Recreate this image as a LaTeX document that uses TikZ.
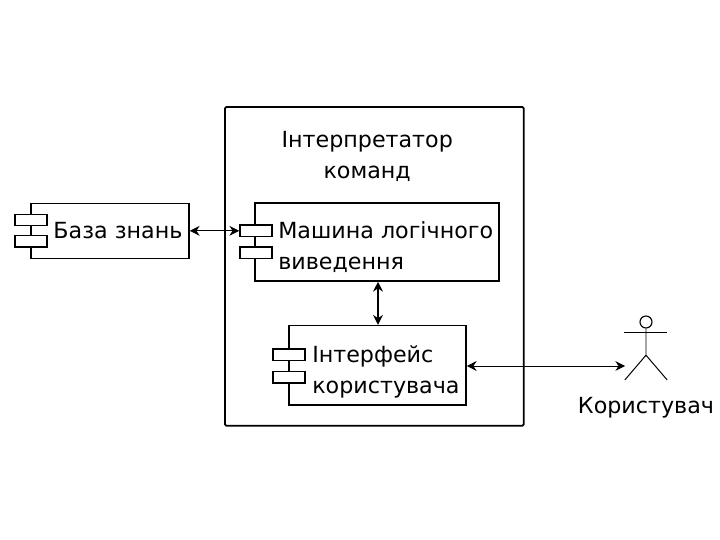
\documentclass[tikz,border=0pt]{standalone}
\usepackage{fontspec}
\setmainfont{DejaVu Sans}
\usetikzlibrary{arrows.meta}
\tikzset{
  compbox/.style={draw=black, fill=white, line width=1.1pt, minimum width=#1, inner sep=0pt},
  portbox/.style={draw=black, fill=white, line width=1.1pt, minimum width=0.8cm, minimum height=0.28cm, inner sep=0pt},
  complabel/.style={anchor=west, align=left, inner sep=0pt, font=\fontsize{15.8}{22}\selectfont},
  link/.style={{Stealth[length=7pt,width=7pt]}-{Stealth[length=7pt,width=7pt]}, line width=0.7pt}
}
\begin{document}
\begin{tikzpicture}
  \useasboundingbox (0,0) rectangle (18,13.5);
  % interpreter
  \node [draw=black, rounded corners=1pt, line width=1.3pt, minimum width=7.47cm, minimum height=7.97cm, inner sep=0pt] (interp) at (9.36,6.84) {};
  \node [align=center, inner sep=0pt, font=\fontsize{15.8}{22}\selectfont] (interpLabel) at (9.18,9.6) {Інтерпретатор\\команд};
  % knowledge base
  \node [compbox=3.95cm, minimum height=1.375cm] (base) at (2.75,7.73) {};
  \node [portbox] (basePortA) at (0.775,8) {};
  \node [portbox] (basePortB) at (0.775,7.47) {};
  \node [complabel] (baseLabel) at (1.33,7.73) {База знань};
  % inference engine
  \node [compbox=6.1cm, minimum height=1.95cm] (engine) at (9.425,7.45) {};
  \node [portbox] (enginePortA) at (6.4,7.73) {};
  \node [portbox] (enginePortB) at (6.4,7.18) {};
  \node [complabel] (engineLabel) at (6.95,7.33) {Машина логічного\\виведення};
  % user interface
  \node [compbox=4.42cm, minimum height=1.98cm] (iface) at (9.44,4.37) {};
  \node [portbox] (ifacePortA) at (7.23,4.63) {};
  \node [portbox] (ifacePortB) at (7.23,4.07) {};
  \node [complabel] (ifaceLabel) at (7.8,4.21) {Інтерфейс\\користувача};
  % actor
  \node [draw=black, circle, line width=0.8pt, minimum size=0.3cm, inner sep=0pt] (head) at (16.15,5.45) {};
  \coordinate (hip) at (16.15,4.62);
  \coordinate (handL) at (15.6,5.2);
  \coordinate (handR) at (16.68,5.2);
  \coordinate (footL) at (15.62,4);
  \coordinate (footR) at (16.68,4);
  \coordinate (userIn) at (15.63,4.35);
  \draw [line width=0.7pt] (head) -- (hip) -- (footL);
  \draw [line width=0.7pt] (hip) -- (footR);
  \draw [line width=0.7pt] (handL) -- (handR);
  \node [inner sep=0pt, font=\fontsize{15.8}{22}\selectfont] (userLabel) at (16.15,3.3) {Користувач};
  % links
  \draw [link] (base.east) -- (enginePortA.west);
  \draw [link, line width=1.1pt] (engine.south -| 9.45,0) -- (iface.north -| 9.45,0);
  \draw [link] (iface.east |- userIn) -- (userIn);
\end{tikzpicture}
\end{document}
